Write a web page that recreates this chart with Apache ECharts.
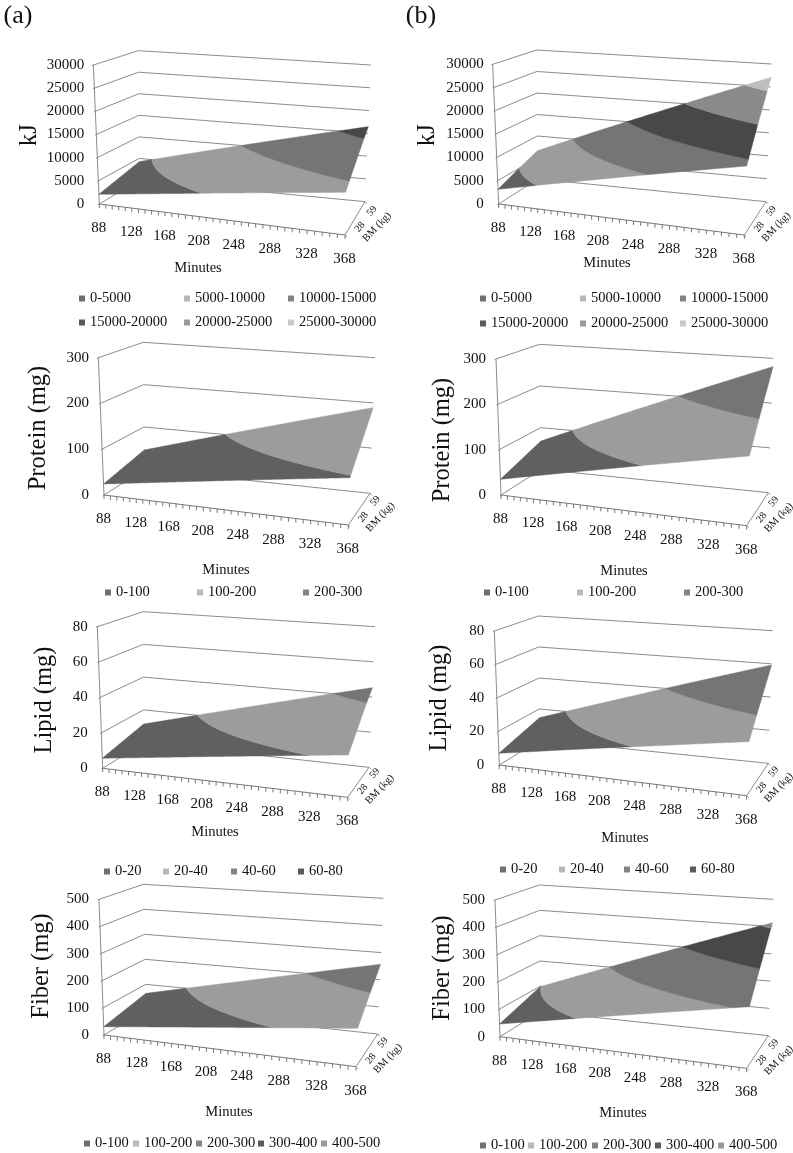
<!DOCTYPE html>
<html>
<head>
    <meta charset="UTF-8" />
    <title>Energy and nutrient surfaces</title>
    <script src="https://cdn.jsdelivr.net/npm/echarts@6/dist/echarts.min.js"></script>
    <style>
        body { margin: 0; background: #fff; }
        #main { width: 793px; height: 1153px; }
    </style>
</head>
<body>
<div id="main"></div>
<script>
/* Minutes columns and the two body mass rows of every surface */
var minutes = [88, 128, 168, 208, 248, 288, 328, 368];
var bmLabels = [28, 59];

/* Values, column by column: BM 28 front edge, BM 59 back edge */
var kjA28 = [2090, 3035, 3980, 4930, 5880, 6830, 7780, 8730];
var kjA59 = [4250, 6000, 7740, 9490, 11230, 12980, 14720, 16460];
var kjB28 = [3150, 4710, 6260, 7820, 9380, 10940, 12490, 14050];
var kjB59 = [6590, 9520, 12450, 15380, 18300, 21230, 24160, 27090];
var proteinA28 = [24, 34.5, 45, 55.4, 65.9, 76.4, 86.8, 97.3];
var proteinA59 = [45.7, 66.2, 86.8, 107.3, 127.8, 148.4, 168.9, 189.4];
var proteinB28 = [34.6, 50.3, 66.1, 81.8, 97.6, 113.3, 129.1, 144.8];
var proteinB59 = [68, 98.5, 129, 159.5, 189.9, 220.4, 250.9, 281.4];
var lipidA28 = [5.7, 8.1, 10.5, 12.9, 15.3, 17.7, 20.1, 22.5];
var lipidA59 = [11.4, 16.2, 21.1, 25.9, 30.8, 35.6, 40.5, 45.3];
var lipidB28 = [7, 10.3, 13.7, 17, 20.3, 23.6, 27, 30.3];
var lipidB59 = [14.4, 20.8, 27.2, 33.6, 40.1, 46.5, 52.9, 59.3];
var fiberA28 = [30.7, 45.1, 59.5, 73.9, 88.4, 102.8, 117.2, 131.6];
var fiberA59 = [64, 91.5, 119.1, 146.6, 174.2, 201.7, 229.3, 256.8];
var fiberB28 = [46.3, 69.7, 93.1, 116.5, 139.8, 163.2, 186.6, 210];
var fiberB59 = [98.7, 143.8, 188.9, 234, 279.1, 324.2, 369.3, 414.4];

/* Legend bands */
var kjBands = ['0-5000', '5000-10000', '10000-15000', '15000-20000', '20000-25000', '25000-30000'];
var proteinBands = ['0-100', '100-200', '200-300'];
var lipidBands = ['0-20', '20-40', '40-60', '60-80'];
var fiberBands = ['0-100', '100-200', '200-300', '300-400', '400-500'];

/* Excel greys, the legend keys come out a bit lighter than the surface */
var surfaceColors = ['#606060', '#9c9c9c', '#757575', '#484848', '#8a8a8a', '#bdbdbd'];
var legendColors = ['#707070', '#b8b8b8', '#838383', '#5a5a5a', '#9a9a9a', '#c8c8c8'];

var FONT = '"Liberation Serif", "Times New Roman", serif';
var GRID_COLOR = '#8c8c8c';
var PERSPECTIVE = 0.913;   // the minutes axis is a bit compressed towards the left

/* Box corners measured on the 3x zoom: f = front, b = back, l/r = left/right, 0 = floor, t = top */
function box(ox, oy, c) {
    var out = {};
    Object.keys(c).forEach(function (k) {
        out[k] = [ox + c[k][0] / 3, oy + c[k][1] / 3];
    });
    return out;
}

var panels = [
    {
        name: 'kJ', max: 30000, step: 5000, bands: kjBands, low: kjA28, high: kjA59,
        box: box(0, 0, { fl0: [298, 612], flt: [280, 195], bl0: [418, 540], blt: [415, 152], br0: [1095, 605], brt: [1113, 195], fr0: [1035, 705], frt: [1042, 265] }),
        nameAt: [30, 135], minutesAt: [198, 268],
        legendX: [79, 184, 288, 79, 184, 288], legendY: [297, 297, 297, 321, 321, 321]
    },
    {
        name: 'kJ', max: 30000, step: 5000, bands: kjBands, low: kjB28, high: kjB59,
        box: box(400, 0, { fl0: [296, 612], flt: [278, 193], bl0: [413, 537], blt: [410, 150], br0: [1098, 605], brt: [1115, 192], fr0: [1033, 705], frt: [1048, 263] }),
        nameAt: [428, 135], minutesAt: [607, 263],
        legendX: [480, 580, 680, 480, 580, 680], legendY: [297, 297, 297, 322, 322, 322]
    },
    {
        name: 'Protein (mg)', max: 300, step: 100, bands: proteinBands, low: proteinA28, high: proteinA59,
        box: box(0, 335, { fl0: [312, 480], flt: [295, 68], bl0: [433, 403], blt: [430, 22], br0: [1110, 475], brt: [1125, 68], fr0: [1045, 570], frt: [1060, 132] }),
        nameAt: [39, 428], minutesAt: [226, 570],
        legendX: [105, 197, 303], legendY: [591, 591, 591]
    },
    {
        name: 'Protein (mg)', max: 300, step: 100, bands: proteinBands, low: proteinB28, high: proteinB59,
        box: box(400, 335, { fl0: [303, 480], flt: [288, 72], bl0: [424, 403], blt: [418, 28], br0: [1105, 473], brt: [1120, 70], fr0: [1040, 572], frt: [1057, 139] }),
        nameAt: [443, 440], minutesAt: [624, 571],
        legendX: [484, 577, 684], legendY: [591, 591, 591]
    },
    {
        name: 'Lipid (mg)', max: 80, step: 20, bands: lipidBands, low: lipidA28, high: lipidA59,
        box: box(0, 605, { fl0: [308, 490], flt: [292, 65], bl0: [431, 413], blt: [430, 20], br0: [1107, 487], brt: [1125, 65], fr0: [1043, 577], frt: [1050, 125] }),
        nameAt: [45, 700], minutesAt: [215, 832],
        legendX: [104, 163, 231, 298], legendY: [870, 870, 870, 870]
    },
    {
        name: 'Lipid (mg)', max: 80, step: 20, bands: lipidBands, low: lipidB28, high: lipidB59,
        box: box(400, 605, { fl0: [298, 480], flt: [283, 78], bl0: [419, 405], blt: [415, 33], br0: [1105, 475], brt: [1118, 77], fr0: [1040, 572], frt: [1058, 144] }),
        nameAt: [440, 698], minutesAt: [625, 838],
        legendX: [500, 559, 624, 690], legendY: [868, 868, 868, 868]
    },
    {
        name: 'Fiber (mg)', max: 500, step: 100, bands: fiberBands, low: fiberA28, high: fiberA59,
        box: box(0, 880, { fl0: [312, 465], flt: [297, 58], bl0: [439, 388], blt: [430, 13], br0: [1133, 462], brt: [1150, 55], fr0: [1068, 560], frt: [1087, 123] }),
        nameAt: [42, 966], minutesAt: [229, 1112],
        legendX: [84, 133, 196, 258, 321], legendY: [1142, 1142, 1142, 1142, 1142]
    },
    {
        name: 'Fiber (mg)', max: 500, step: 100, bands: fiberBands, low: fiberB28, high: fiberB59,
        box: box(400, 880, { fl0: [300, 470], flt: [285, 60], bl0: [421, 395], blt: [418, 15], br0: [1105, 467], brt: [1120, 58], fr0: [1040, 565], frt: [1059, 125] }),
        nameAt: [443, 968], minutesAt: [623, 1113],
        legendX: [480, 528, 592, 655, 718], legendY: [1144, 1144, 1144, 1144, 1144]
    }
];

function mix(a, b, t) {
    return [a[0] + (b[0] - a[0]) * t, a[1] + (b[1] - a[1]) * t];
}

/* Minutes and value go through the panel's own axes, then the flat grid is bent into the box.
   depth: 0 at BM 28, 1 at BM 59 */
function project(api, p, m, depth, v) {
    var c = api.coord([m, v]);
    var b = p.box;
    var s = (c[0] - b.fl0[0]) / (b.fr0[0] - b.fl0[0]);
    var h = (b.fl0[1] - c[1]) / (b.fl0[1] - b.flt[1]);
    s = s * PERSPECTIVE / (1 + s * (PERSPECTIVE - 1));
    var floor = mix(mix(b.fl0, b.fr0, s), mix(b.bl0, b.br0, s), depth);
    var top = mix(mix(b.flt, b.frt, s), mix(b.blt, b.brt, s), depth);
    return mix(floor, top, h);
}

function columnValue(row, m) {
    var i = Math.min(Math.floor((m - minutes[0]) / 40), minutes.length - 2);
    var t = (m - minutes[i]) / (minutes[i + 1] - minutes[i]);
    return row[i] + (row[i + 1] - row[i]) * t;
}

function clamp01(x) {
    return Math.max(0, Math.min(1, x));
}

function segment(a, b, color, width) {
    return {
        type: 'line',
        shape: { x1: a[0], y1: a[1], x2: b[0], y2: b[1] },
        style: { stroke: color || GRID_COLOR, lineWidth: width || 1 }
    };
}

function label(text, x, y, size, rotation) {
    return {
        type: 'text',
        x: x, y: y, rotation: rotation || 0,
        style: {
            text: String(text), x: 0, y: 0, fill: '#111',
            fontFamily: FONT, fontSize: size,
            align: 'center', verticalAlign: 'middle'
        }
    };
}

/* Walls, floor and value grid behind the surface */
function renderWalls(p) {
    return function (params, api) {
        var kids = [];
        var m0 = minutes[0], m1 = minutes[minutes.length - 1];
        for (var v = 0; v <= p.max; v += p.step) {
            var fl = project(api, p, m0, 0, v);
            var bl = project(api, p, m0, 1, v);
            var br = project(api, p, m1, 1, v);
            kids.push(segment(mix(fl, bl, -0.03), bl));
            kids.push(segment(bl, br));
        }
        kids.push(segment(project(api, p, m0, 0, 0), project(api, p, m0, 0, p.max)));
        kids.push(segment(project(api, p, m0, 0, 0), project(api, p, m1, 0, 0), '#777'));
        kids.push(segment(project(api, p, m1, 0, 0), project(api, p, m1, 1, 0)));
        return { type: 'group', children: kids };
    };
}

/* One polygon per band, cut from the surface column by column */
function renderBand(p, lo, hi, color) {
    return function (params, api) {
        var lower = [], upper = [];
        for (var m = minutes[0]; m <= minutes[minutes.length - 1]; m += 1) {
            var a = columnValue(p.low, m);
            var b = columnValue(p.high, m);
            var d1 = clamp01((lo - a) / (b - a));
            var d2 = clamp01((hi - a) / (b - a));
            if (d2 <= d1) continue;
            lower.push(project(api, p, m, d1, a + (b - a) * d1));
            upper.push(project(api, p, m, d2, a + (b - a) * d2));
        }
        if (!lower.length) return null;
        return {
            type: 'polygon',
            shape: { points: lower.concat(upper.reverse()) },
            style: { fill: color, stroke: color, lineWidth: 0.5 }
        };
    };
}

/* Minutes ticks, minutes labels and the BM axis text */
function renderAxisMarks(p) {
    return function (params, api) {
        var kids = [];
        var m1 = minutes[minutes.length - 1];
        for (var m = minutes[0]; m <= m1; m += 8) {
            var t = project(api, p, m, 0, 0);
            kids.push(segment(t, [t[0], t[1] + 4], '#777'));
        }
        minutes.forEach(function (mm) {
            var q = project(api, p, mm, 0, 0);
            kids.push(label(mm, q[0] - 0.5, q[1] + 24, 15));
        });
        var corner = project(api, p, m1, 0, 0);
        var back = project(api, p, m1, 1, 0);
        kids.push(segment(corner, [corner[0] + 2, corner[1] + 2]));
        kids.push(segment(back, [back[0] + 2, back[1] + 2]));
        kids.push(label(bmLabels[0], corner[0] + 15, corner[1] - 8, 10, Math.PI * 0.28));
        kids.push(label(bmLabels[1], corner[0] + 27, corner[1] - 24, 10, Math.PI * 0.28));
        kids.push(label('BM (kg)', corner[0] + 32, corner[1] - 8, 10.5, Math.PI * 0.26));
        return { type: 'group', children: kids };
    };
}

var grids = [], xAxes = [], yAxes = [], series = [], legends = [], graphics = [];

panels.forEach(function (p, i) {
    var b = p.box;
    grids.push({
        left: b.fl0[0], top: b.flt[1],
        width: b.fr0[0] - b.fl0[0], height: b.fl0[1] - b.flt[1]
    });
    xAxes.push({
        gridIndex: i, type: 'value', min: minutes[0], max: minutes[minutes.length - 1],
        show: false
    });
    yAxes.push({
        gridIndex: i, type: 'value', min: 0, max: p.max, interval: p.step,
        axisLine: { show: false }, axisTick: { show: false }, splitLine: { show: false },
        axisLabel: {
            color: '#111', fontFamily: FONT, fontSize: 15, margin: 15,
            formatter: function (v) { return String(v); }
        }
    });

    series.push({
        type: 'custom', xAxisIndex: i, yAxisIndex: i, silent: true,
        data: [[minutes[0], 0]], renderItem: renderWalls(p)
    });
    p.bands.forEach(function (band, j) {
        var lim = band.split('-').map(Number);
        series.push({
            type: 'custom', name: band, xAxisIndex: i, yAxisIndex: i, silent: true,
            itemStyle: { color: legendColors[j] },
            data: [[minutes[0], lim[0]]],
            renderItem: renderBand(p, lim[0], lim[1], surfaceColors[j])
        });
        legends.push({
            left: p.legendX[j], top: p.legendY[j] - 6,
            padding: 0, icon: 'rect', itemWidth: 6, itemHeight: 6,
            selectedMode: false, data: [band],
            textStyle: { color: '#111', fontFamily: FONT, fontSize: 14.5 }
        });
    });
    series.push({
        type: 'custom', xAxisIndex: i, yAxisIndex: i, silent: true,
        data: [[minutes[0], 0]], renderItem: renderAxisMarks(p)
    });

    graphics.push({
        type: 'text', x: p.nameAt[0], y: p.nameAt[1], rotation: Math.PI / 2,
        style: { text: p.name, fill: '#111', font: '24.5px ' + FONT, align: 'center', verticalAlign: 'middle' }
    });
    graphics.push({
        type: 'text', x: p.minutesAt[0], y: p.minutesAt[1],
        style: { text: 'Minutes', fill: '#111', font: '14.5px ' + FONT, align: 'center', verticalAlign: 'middle' }
    });
});

graphics.push({
    type: 'text', x: 18, y: 16,
    style: { text: '(a)', fill: '#111', font: '26px ' + FONT, align: 'center', verticalAlign: 'middle' }
});
graphics.push({
    type: 'text', x: 421, y: 16,
    style: { text: '(b)', fill: '#111', font: '26px ' + FONT, align: 'center', verticalAlign: 'middle' }
});

var myChart = echarts.init(document.getElementById('main'), null, { renderer: 'canvas' });
myChart.setOption({
    backgroundColor: '#fff',
    animation: false,
    grid: grids,
    xAxis: xAxes,
    yAxis: yAxes,
    legend: legends,
    graphic: graphics,
    series: series
});
</script>
</body>
</html>
